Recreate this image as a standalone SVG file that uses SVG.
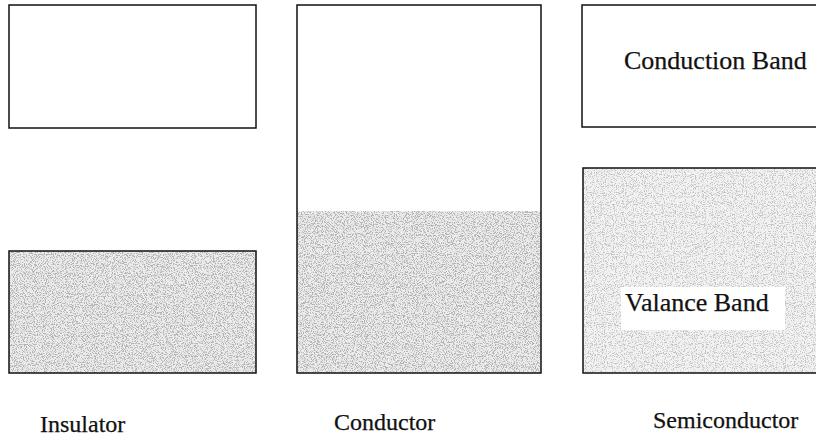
<svg xmlns="http://www.w3.org/2000/svg" width="816" height="440" viewBox="0 0 816 440">
  <defs>
    <filter id="stippleFx" x="0" y="0" width="100%" height="100%" filterUnits="objectBoundingBox">
      <feTurbulence type="fractalNoise" baseFrequency="0.9" numOctaves="2" seed="7" result="n"/>
      <feColorMatrix in="n" type="matrix" values="0 0 0 0 0.45  0 0 0 0 0.45  0 0 0 0 0.45  7 0 0 0 -3.4" result="dots"/>
      <feComposite in="dots" in2="SourceGraphic" operator="in"/>
    </filter>
    <filter id="stippleLightFx" x="0" y="0" width="100%" height="100%" filterUnits="objectBoundingBox">
      <feTurbulence type="fractalNoise" baseFrequency="0.9" numOctaves="2" seed="11" result="n"/>
      <feColorMatrix in="n" type="matrix" values="0 0 0 0 0.55  0 0 0 0 0.55  0 0 0 0 0.55  7 0 0 0 -3.6" result="dots"/>
      <feComposite in="dots" in2="SourceGraphic" operator="in"/>
    </filter>
  </defs>
  <style>
    .band { stroke: #111; stroke-width: 1.5; fill: none; }
    .empty { fill: #fff; }
    .base { fill: #ececec; }
    .baseLight { fill: #f2f2f2; }
    .dots { fill: #000; filter: url(#stippleFx); }
    .dotsLight { fill: #000; filter: url(#stippleLightFx); }
    .lbl { font-family: "Liberation Serif", "Times New Roman", serif; fill: #111; stroke: #111; stroke-width: 0.25; }
    .cap { font-size: 24px; }
    .inner { font-size: 26px; }
  </style>
  <rect width="816" height="440" fill="#fff"/>

  <g id="insulator">
    <rect class="band empty" x="9" y="5" width="247" height="123"/>
    <rect class="base" x="9" y="251" width="247" height="122"/>
    <rect class="dots" x="9" y="251" width="247" height="122"/>
    <rect class="band" x="9" y="251" width="247" height="122"/>
    <text class="lbl cap" x="40" y="432">Insulator</text>
  </g>

  <g id="conductor">
    <rect class="base" x="297" y="211" width="244" height="162"/>
    <rect class="dots" x="297" y="211" width="244" height="162"/>
    <rect class="band" x="297" y="5" width="244" height="368"/>
    <text class="lbl cap" x="334" y="430">Conductor</text>
  </g>

  <g id="semiconductor">
    <rect class="band empty" x="582" y="5" width="250" height="122"/>
    <text class="lbl inner" x="624" y="69">Conduction Band</text>
    <rect class="baseLight" x="583" y="168" width="250" height="205"/>
    <rect class="dotsLight" x="583" y="168" width="250" height="205"/>
    <rect class="band" x="583" y="168" width="250" height="205"/>
    <rect x="621" y="287" width="164" height="43" fill="#fff"/>
    <text class="lbl inner" x="625" y="311">Valance Band</text>
    <text class="lbl cap" x="653" y="428">Semiconductor</text>
  </g>
</svg>
